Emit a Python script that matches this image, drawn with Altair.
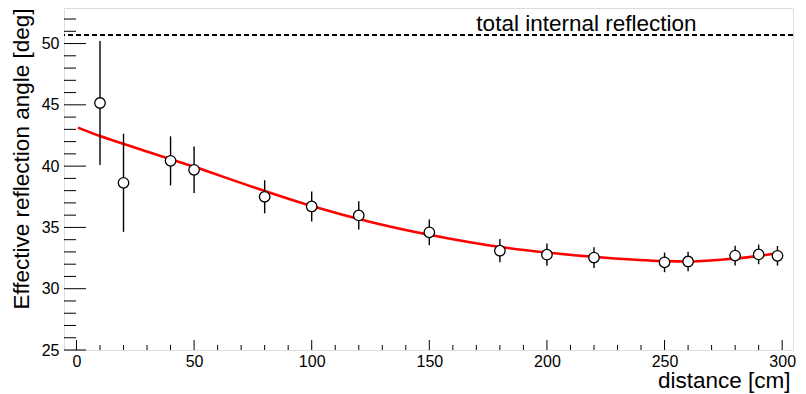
import altair as alt
import pandas as pd

# measured points
distance = [10, 20, 40, 50, 80, 100, 120, 150, 180, 200, 220, 250, 260, 280, 290, 298]
angle = [45.15, 38.64, 40.43, 39.70, 37.50, 36.71, 35.98, 34.60, 33.10, 32.78,
         32.54, 32.15, 32.22, 32.70, 32.80, 32.68]
angle_err = [5.05, 4.0, 2.0, 1.9, 1.35, 1.22, 1.15, 1.05, 0.95, 0.9,
             0.85, 0.8, 0.8, 0.8, 0.8, 0.8]

# fitted curve
fit_x = [0.6, 10, 25, 50, 75, 100, 125, 150, 175, 200, 225, 250, 260, 275, 290, 298]
fit_y = [43.14, 42.45, 41.5, 39.95, 38.3, 36.75, 35.45, 34.4, 33.55, 32.95,
         32.52, 32.25, 32.22, 32.38, 32.68, 32.92]

tir_angle = 50.7
tir_label = ["total internal reflection"]
tir_label_x = [170]
tir_label_y = [51.0]

x_major = [0, 50, 100, 150, 200, 250, 300]
x_minor = [v for v in range(0, 301, 10) if v % 50 != 0]
y_major = [25, 30, 35, 40, 45, 50]
y_minor = [v for v in range(26, 53) if v % 5 != 0]

W, H = 729, 342
FONT = "Liberation Sans"
TFS = 22.5

xscale = alt.Scale(domain=[-5.3, 304.6], nice=False, zero=False)
yscale = alt.Scale(domain=[25, 52.9], nice=False, zero=False)

pts = pd.DataFrame({"d": distance, "a": angle, "e": angle_err})
pts["lo"] = pts["a"] - pts["e"]
pts["hi"] = pts["a"] + pts["e"]
fit = pd.DataFrame({"d": fit_x, "a": fit_y})

xax = alt.Axis(values=x_major, ticks=False, domain=False, grid=False,
               labelFontSize=16, labelFont=FONT, labelColor="black", labelPadding=3,
               title="distance [cm]", titleFontSize=TFS, titleFont=FONT,
               titleFontWeight="normal", titleColor="black", titleAlign="right",
               titleX=W - 3, titleY=19.5, titleBaseline="top")
yax = alt.Axis(values=y_major, ticks=False, domain=False, grid=False,
               labelFontSize=16, labelFont=FONT, labelColor="black", labelPadding=5,
               title="Effective reflection angle [deg]", titleFontSize=TFS, titleFont=FONT,
               titleFontWeight="normal", titleColor="black", titleAnchor="end",
               titlePadding=8)

base_x = alt.X("d:Q", scale=xscale, axis=xax)
base_y = alt.Y("a:Q", scale=yscale, axis=yax)

curve = alt.Chart(fit).mark_line(color="#ff0000", strokeWidth=2.6, interpolate="monotone").encode(
    x=base_x, y=base_y)

errs = alt.Chart(pts).mark_rule(color="black", strokeWidth=1.4).encode(
    x=alt.X("d:Q", scale=xscale), y=alt.Y("lo:Q", scale=yscale), y2="hi:Q")

dots = alt.Chart(pts).mark_point(shape="circle", size=110, filled=False, fill="white",
                                  fillOpacity=1, stroke="black", strokeWidth=1.3,
                                  opacity=1).encode(
    x=alt.X("d:Q", scale=xscale), y=alt.Y("a:Q", scale=yscale))

tir = alt.Chart(pd.DataFrame({"v": [tir_angle]})).mark_rule(
    color="black", strokeWidth=2, strokeDash=[5, 3]).encode(
    y=alt.Y("v:Q", scale=yscale))

label = alt.Chart(pd.DataFrame({"t": tir_label, "x": tir_label_x, "y": tir_label_y})).mark_text(
    align="left", baseline="alphabetic", fontSize=TFS, font=FONT, color="black").encode(
    x=alt.X("x:Q", scale=xscale), y=alt.Y("y:Q", scale=yscale), text="t:N")

ytick_major = alt.Chart(pd.DataFrame({"v": y_major})).mark_rule(color="black", strokeWidth=1).encode(
    y=alt.Y("v:Q", scale=yscale), x=alt.value(0), x2=alt.value(22))
ytick_minor = alt.Chart(pd.DataFrame({"v": y_minor})).mark_rule(color="black", strokeWidth=1).encode(
    y=alt.Y("v:Q", scale=yscale), x=alt.value(0), x2=alt.value(12))
xtick_major = alt.Chart(pd.DataFrame({"v": x_major})).mark_rule(color="black", strokeWidth=1).encode(
    x=alt.X("v:Q", scale=xscale), y=alt.value(H), y2=alt.value(H - 10))
xtick_minor = alt.Chart(pd.DataFrame({"v": x_minor})).mark_rule(color="black", strokeWidth=1).encode(
    x=alt.X("v:Q", scale=xscale), y=alt.value(H), y2=alt.value(H - 5))

chart = alt.layer(
    curve, ytick_major, ytick_minor, xtick_major, xtick_minor, tir, label, errs, dots
).properties(
    width=W, height=H,
    autosize=alt.AutoSizeParams(type="none"),
    padding={"left": 56, "top": 0, "right": 5, "bottom": 44},
).configure_view(
    stroke="black", strokeWidth=1.5
).configure(background="white")

chart.save("out.html", embed_options={"renderer": "svg", "actions": False})
